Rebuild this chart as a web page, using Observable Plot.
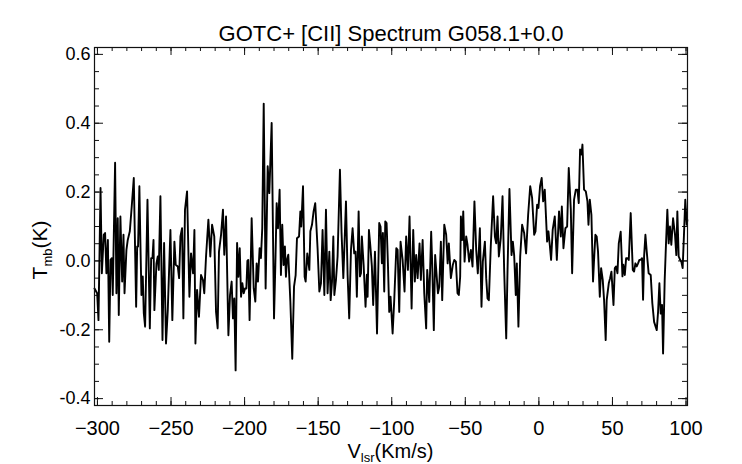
<!DOCTYPE html>
<html><head><meta charset="utf-8">
<script src="https://cdn.jsdelivr.net/npm/d3@7"></script>
<script src="https://cdn.jsdelivr.net/npm/@observablehq/plot@0.6"></script>
<style>html,body{margin:0;padding:0;background:#fff}</style>
</head><body><div id="chart"></div>
<script>
const titleText = "GOTC+ [CII] Spectrum G058.1+0.0";
const velocity = [
-302.0,-300.2,-299.3,-297.9,-297.0,-295.7,-294.8,-293.9,-292.9,-292.0,-291.1,-290.2,-289.6,-288.0,-287.1,-286.2,-285.5,-284.4,-283.2,-282.3,-281.6,-280.3,-279.4,-278.0,-276.7,-275.3,-273.7,-273.0,-272.4,-271.5,-270.8,-270.1,-269.2,-268.5,-267.6,-266.0,-264.4,-263.5,-262.6,-261.9,-261.3,-259.9,-259.0,-258.3,-257.2,-255.8,-254.7,-253.4,-252.2,-250.4,-249.1,-247.7,-246.8,-245.4,-244.5,-243.6,-242.5,-241.6,-240.5,-239.1,-237.5,-236.4,-235.0,-234.1,-233.4,-232.3,-231.0,-229.6,-228.3,-227.4,-226.2,-224.6,-223.3,-222.1,-220.6,
-219.4,-218.3,-217.4,-216.0,-214.7,-213.8,-212.6,-211.0,-209.9,-208.8,-207.9,-207.0,-206.1,-205.1,-204.2,-203.3,-202.4,-201.5,-200.6,-199.7,-198.8,-198.1,-197.5,-196.6,-195.2,-193.8,-192.7,-191.8,-190.9,-189.8,-188.9,-188.0,-187.0,-185.7,-184.3,-183.2,-181.6,-180.0,-179.1,-178.2,-177.3,-176.2,-175.3,-174.4,-173.5,-172.6,-171.9,-171.2,-170.3,-168.9,-167.6,-166.4,-165.3,-164.4,-163.0,-162.1,-161.5,-160.3,-159.2,-158.5,-157.4,-156.0,-155.3,-154.2,-153.1,-152.0,-150.4,-149.2,-148.1,-147.0,-145.8,-144.7,-143.6,-142.4,-141.5,-140.6,-139.7,-139.0,
-137.9,-136.8,-135.2,-134.1,-132.9,-131.1,-130.0,-128.9,-127.7,-126.6,-125.5,-124.6,-123.7,-122.5,-121.6,-120.9,-120.3,-119.1,-117.8,-116.9,-116.4,-115.5,-114.6,-113.5,-112.6,-111.4,-110.0,-108.5,-107.6,-106.7,-106.0,-105.1,-104.4,-103.5,-102.6,-101.7,-100.8,-99.4,-98.3,-96.9,-96.0,-94.9,-94.0,-92.6,-91.3,-90.2,-89.0,-87.9,-86.5,-85.4,-84.3,-83.4,-82.4,-81.1,-80.2,-79.0,-77.9,-76.6,-75.9,-74.5,-73.2,-72.5,-71.4,-70.5,-68.6,-67.7,-66.6,-65.7,-64.3,-63.0,-62.0,-61.2,-59.8,-58.5,-57.5,
-56.4,-55.3,-54.4,-53.5,-53.0,-52.1,-51.4,-50.5,-49.4,-48.5,-47.4,-46.2,-45.1,-43.8,-42.6,-41.5,-40.1,-39.0,-38.1,-36.7,-35.8,-34.9,-34.0,-32.7,-31.1,-29.9,-29.0,-28.1,-27.2,-25.9,-24.7,-23.6,-22.2,-21.3,-20.0,-18.6,-17.7,-16.8,-15.7,-15.0,-13.9,-12.7,-11.4,-10.0,-8.7,-7.3,-5.9,-4.6,-3.2,-2.3,-1.2,-0.3,0.8,1.9,2.9,4.0,5.6,6.5,7.4,8.3,9.4,10.8,12.2,13.7,14.9,15.6,16.7,18.0,19.2,20.3,21.7,22.6,23.9,
25.1,26.2,27.1,28.0,29.0,29.6,30.7,31.9,33.0,33.7,34.6,35.7,36.8,37.5,38.4,39.3,40.2,41.4,42.3,43.4,44.3,45.4,46.1,47.5,48.4,49.3,50.7,51.6,52.5,53.4,54.3,55.6,56.8,57.4,58.4,59.3,60.2,61.1,62.4,63.8,64.7,65.6,66.5,67.4,68.3,69.2,70.1,70.8,71.5,72.4,73.3,74.6,76.0,77.1,78.3,80.1,81.0,81.9,82.8,83.7,84.4,85.5,86.4,87.3,88.2,89.1,90.0,91.2,92.5,93.4,94.1,95.0,96.0,96.8,97.7,98.6,99.5,100.5,100.9
];
const tmb = [
-0.08,-0.094,-0.172,0.212,-0.036,0.076,0.081,-0.036,0.061,-0.235,0.003,0.008,-0.099,0.285,-0.094,0.124,-0.157,0.129,-0.06,0.076,-0.094,0.032,0.061,0.086,0.158,0.241,-0.133,0.042,0.042,0.217,0.052,-0.099,-0.045,-0.152,-0.191,0.178,-0.196,0.008,0.008,0.061,-0.143,-0.007,0.013,-0.026,0.188,-0.23,0.052,-0.24,-0.143,0.09,-0.172,0.056,-0.011,-0.016,-0.05,0.071,0.095,-0.167,0.149,0.202,-0.104,0.022,-0.036,0.09,-0.24,-0.084,-0.162,-0.041,-0.055,-0.094,0.013,0.12,0.013,0.105,0.071,
-0.148,-0.196,0.027,0.076,0.149,0.018,0.129,-0.216,-0.099,-0.06,-0.167,-0.109,-0.318,0.052,-0.046,0.037,-0.104,-0.065,-0.094,-0.08,-0.08,0.0,0.003,-0.172,0.124,-0.08,-0.118,-0.007,-0.06,0.037,0.008,0.095,0.457,-0.08,0.275,0.197,0.401,-0.167,-0.012,0.168,0.095,0.207,-0.041,0.105,-0.012,0.042,-0.046,0.003,0.018,-0.118,-0.284,-0.075,-0.041,0.066,0.071,0.144,0.1,0.217,-0.046,-0.06,0.022,-0.026,0.086,0.105,0.144,0.168,0.037,-0.089,-0.065,0.09,-0.099,0.149,-0.094,0.027,-0.114,-0.06,0.071,-0.099,
-0.055,0.013,0.265,0.081,-0.05,0.173,-0.04,-0.167,0.032,0.095,0.022,0.027,-0.104,0.144,-0.045,-0.036,0.071,-0.012,-0.133,-0.04,-0.104,0.09,0.047,-0.016,-0.128,0.027,-0.211,0.11,0.1,-0.007,0.081,-0.089,0.115,0.11,-0.007,-0.148,-0.104,-0.211,-0.114,0.037,0.032,-0.148,0.056,0.003,-0.089,0.071,-0.026,0.129,-0.138,0.09,-0.06,0.017,-0.05,0.051,-0.055,0.061,-0.094,-0.196,-0.026,-0.119,0.085,-0.007,-0.201,0.017,-0.094,-0.075,0.056,-0.114,0.105,0.076,-0.007,0.051,-0.05,-0.012,0.003,
-0.002,-0.094,-0.099,-0.046,0.129,0.061,0.144,-0.002,0.071,0.047,-0.002,0.032,-0.016,0.173,0.032,-0.036,0.095,-0.133,-0.002,0.056,-0.05,-0.109,-0.114,0.042,0.188,0.071,0.051,0.129,0.013,0.066,0.188,-0.026,-0.225,-0.026,0.209,0.017,0.056,0.017,-0.099,-0.007,-0.191,0.013,0.105,0.081,0.022,0.134,0.217,0.183,0.076,0.086,0.163,0.154,0.217,0.241,0.173,0.207,0.056,0.086,0.047,0.003,0.091,0.129,0.003,0.144,0.071,0.158,0.037,0.095,0.1,0.27,0.149,-0.036,0.178,
0.207,0.207,0.168,0.324,0.309,0.338,0.207,0.202,0.173,0.105,0.178,0.134,-0.06,0.003,0.076,0.071,0.027,-0.104,-0.021,-0.055,-0.113,-0.23,-0.113,-0.065,-0.05,-0.031,-0.128,-0.021,-0.016,-0.036,0.051,0.085,-0.045,-0.011,-0.041,0.008,0.008,0.003,0.139,-0.026,-0.031,-0.007,-0.016,-0.007,0.003,0.003,0.008,-0.113,0.013,0.076,0.027,-0.036,-0.041,-0.123,-0.177,-0.201,-0.148,-0.065,-0.153,-0.128,-0.269,-0.055,0.051,0.149,0.051,0.1,0.047,0.124,0.076,0.017,0.144,0.013,0.003,-0.002,-0.021,0.076,0.178,0.105,0.119
];
const xMajorTicks = [-300, -250, -200, -150, -100, -50, 0, 50, 100];
const xMinorTicks = d3.range(-300, 101, 10);
const yMajorTicks = [-0.4, -0.2, 0.0, 0.2, 0.4, 0.6];
const yMinorTicks = d3.range(-8, 13).map(i => i * 0.05);

const spectrum = velocity.map((v, i) => ({v, t: tmb[i]}));

const W = 742, H = 464;
const mL = 94, mR = 55, mT = 47, mB = 59;
const fw = W - mL - mR, fh = H - mT - mB;
const ink = "#111";

const chart = Plot.plot({
  width: W, height: H,
  marginLeft: mL, marginRight: mR, marginTop: mT, marginBottom: mB,
  style: {fontFamily: "'Liberation Sans', Arial, Helvetica, sans-serif", background: "#fff", color: "#000", overflow: "visible"},
  x: {domain: [-302, 101]},
  y: {domain: [-0.42, 0.62]},
  marks: [
    Plot.ruleX(xMinorTicks, {x: d => d, insetTop: fh - 4, stroke: ink, strokeWidth: 1}),
    Plot.ruleX(xMinorTicks, {x: d => d, insetBottom: fh - 4, stroke: ink, strokeWidth: 1}),
    Plot.ruleX(xMajorTicks, {x: d => d, insetTop: fh - 8, stroke: ink, strokeWidth: 1}),
    Plot.ruleX(xMajorTicks, {x: d => d, insetBottom: fh - 8, stroke: ink, strokeWidth: 1}),
    Plot.ruleY(yMinorTicks, {y: d => d, insetRight: fw - 5, stroke: ink, strokeWidth: 1}),
    Plot.ruleY(yMinorTicks, {y: d => d, insetLeft: fw - 5, stroke: ink, strokeWidth: 1}),
    Plot.ruleY(yMajorTicks, {y: d => d, insetRight: fw - 9, stroke: ink, strokeWidth: 1}),
    Plot.ruleY(yMajorTicks, {y: d => d, insetLeft: fw - 9, stroke: ink, strokeWidth: 1}),
    Plot.axisX({ticks: xMajorTicks, tickSize: 0, tickPadding: 15, fontSize: 20, label: null,
      tickFormat: d => (d < 0 ? "\u2212" : "") + Math.abs(d)}),
    Plot.axisY({ticks: yMajorTicks, tickSize: 0, tickPadding: 4, fontSize: 18, label: null,
      tickFormat: d => (d < 0 ? "-" : "") + Math.abs(d).toFixed(1)}),
    Plot.line(spectrum, {x: "v", y: "t", stroke: "#000", strokeWidth: 1.9, strokeLinejoin: "round"}),
    Plot.frame({stroke: ink, strokeWidth: 1.2}),
    Plot.text([titleText], {frameAnchor: "top", dy: -7, lineAnchor: "bottom", fontSize: 22, fill: "#000"})
  ]
});

const svg = d3.select(chart);
const xt = svg.append("text")
  .attr("x", mL + fw / 2).attr("y", 458)
  .attr("text-anchor", "middle").attr("font-size", 20).attr("fill", "#000");
xt.append("tspan").text("V");
xt.append("tspan").attr("font-size", 13).attr("dy", 4).text("lsr");
xt.append("tspan").attr("dy", -4).text("(Km/s)");

const yt = svg.append("text")
  .attr("transform", `translate(47,${mT + fh / 2 + 24}) rotate(-90)`)
  .attr("text-anchor", "middle").attr("font-size", 21).attr("fill", "#000");
yt.append("tspan").text("T");
yt.append("tspan").attr("font-size", 13).attr("dy", 5).text("mb");
yt.append("tspan").attr("dy", -5).text("(K)");

document.getElementById("chart").appendChild(chart);
</script>
</body></html>
